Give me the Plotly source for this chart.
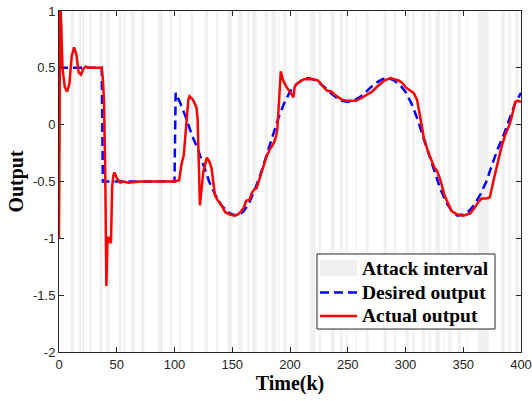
import plotly.graph_objects as go

# Attack intervals (start, end) in time steps k
attack_start = [10, 17, 20, 26, 35, 41, 52, 56, 62, 71, 86, 96, 104, 114, 126, 136,
                146, 155, 163, 167, 178, 184, 190, 194, 204, 217, 225, 235, 243, 248,
                257, 266, 281, 290, 300, 306, 314, 320, 326, 333, 337, 345, 353, 363,
                383, 389, 395]
attack_end = [13, 19, 22, 28, 38, 44, 54, 58, 66, 74, 90, 98, 106, 116, 129, 138,
              150, 159, 165, 171, 181, 188, 191, 197, 207, 222, 227, 239, 246, 250,
              258, 268, 284, 292, 303, 308, 317, 322, 330, 334, 340, 348, 354, 372,
              386, 391, 398]

# Desired output (reference trajectory)
desired_k = [0, 37, 38, 100, 101, 105, 110, 115, 120, 125, 130, 135, 140, 145, 150,
             155, 160, 165, 170, 175, 180, 185, 190, 195, 200, 205, 210, 215, 220,
             225, 230, 235, 240, 245, 250, 255, 260, 265, 270, 275, 280, 285, 290,
             295, 300, 305, 310, 315, 320, 325, 330, 335, 340, 345, 350, 355, 360,
             365, 370, 375, 380, 385, 390, 395, 400]
desired_y = [0.5, 0.5, -0.5, -0.5, 0.28, 0.19, 0.06, -0.09, -0.21, -0.35, -0.50,
             -0.61, -0.70, -0.76, -0.79, -0.80, -0.76, -0.68, -0.56, -0.42, -0.26,
             -0.10, 0.06, 0.19, 0.29, 0.35, 0.39, 0.41, 0.40, 0.37, 0.33, 0.28, 0.24,
             0.21, 0.20, 0.21, 0.24, 0.28, 0.33, 0.37, 0.40, 0.41, 0.39, 0.35, 0.29,
             0.19, 0.06, -0.10, -0.26, -0.42, -0.56, -0.68, -0.76, -0.80, -0.79,
             -0.76, -0.70, -0.61, -0.50, -0.35, -0.21, -0.09, 0.06, 0.19, 0.28]

# Actual system output
actual_k = [0, 1, 2, 3, 5, 7, 9, 11, 13, 15, 17, 19, 21, 23, 26, 30, 34, 37, 38, 39,
            40, 41, 42, 43, 44, 45, 46, 47, 48, 50, 53, 56, 60, 70, 80, 90, 100, 104,
            106, 108, 110, 112, 113, 116, 119, 120, 122, 125, 128, 130, 132, 135, 137,
            140, 144, 148, 152, 155, 157, 160, 162, 165, 167, 169, 171, 173, 176, 180,
            183, 186, 188, 189, 190, 191, 192, 194, 197, 200, 203, 204, 206, 209, 212,
            215, 220, 224, 226, 229, 232, 236, 238, 242, 245, 249, 253, 257, 261, 266,
            271, 276, 282, 287, 291, 294, 297, 300, 304, 307, 310, 313, 316, 319, 322,
            325, 327, 330, 334, 337, 340, 345, 350, 356, 360, 363, 366, 370, 373, 376,
            379, 383, 386, 390, 392, 395, 397, 400]
actual_y = [-1.0, 1.1, 0.85, 0.5, 0.33, 0.29, 0.36, 0.6, 0.68, 0.62, 0.46, 0.44, 0.49,
            0.51, 0.50, 0.50, 0.50, 0.50, 0.40, 0.20, -0.40, -1.42, -1.0, -0.99, -1.03,
            -1.04, -0.55, -0.45, -0.42, -0.47, -0.51, -0.50, -0.51, -0.50, -0.50, -0.50,
            -0.50, -0.49, -0.35, -0.27, 0.0, 0.22, 0.25, 0.22, 0.15, 0.05, -0.71, -0.41,
            -0.29, -0.32, -0.38, -0.62, -0.66, -0.70, -0.77, -0.79, -0.80, -0.79, -0.77,
            -0.73, -0.67, -0.66, -0.60, -0.57, -0.56, -0.50, -0.40, -0.27, -0.21, -0.16,
            -0.10, -0.04, 0.12, 0.30, 0.47, 0.39, 0.33, 0.29, 0.24, 0.33, 0.36, 0.38,
            0.40, 0.40, 0.40, 0.39, 0.37, 0.33, 0.30, 0.29, 0.27, 0.24, 0.22, 0.21, 0.21,
            0.21, 0.23, 0.26, 0.29, 0.34, 0.39, 0.41, 0.40, 0.39, 0.37, 0.33, 0.30, 0.28,
            0.22, 0.03, -0.12, -0.22, -0.30, -0.38, -0.40, -0.48, -0.63, -0.69, -0.76,
            -0.79, -0.80, -0.78, -0.73, -0.68, -0.65, -0.65, -0.64, -0.50, -0.36, -0.20,
            -0.10, 0.00, 0.07, 0.20, 0.21, 0.20]

x_ticks = [0, 50, 100, 150, 200, 250, 300, 350, 400]
y_ticks = [1, 0.5, 0, -0.5, -1, -1.5, -2]
y_ticktext = ["1", "0.5", "0", "-0.5", "-1", "-1.5", "-2"]

legend_labels = ["Attack interval", "Desired output", "Actual output"]

Y_MIN, Y_MAX = -2, 1

BAND_COLOR = "#f0f0f0"
DESIRED_COLOR = "#0000ff"
ACTUAL_COLOR = "#ff0000"
LINE_W = 2.5
DASH = "9px,5px"

# Build closed rectangles for every attack interval, separated by gaps
band_x, band_y = [], []
for s, e in zip(attack_start, attack_end):
    band_x += [s, e, e, s, s, None]
    band_y += [Y_MIN, Y_MIN, Y_MAX, Y_MAX, Y_MIN, None]

serif = "Liberation Serif"
sans = "Liberation Sans"
axis_col = "#262626"

fig = go.Figure()
fig.add_trace(go.Scatter(
    x=band_x, y=band_y, mode="lines", fill="toself",
    fillcolor=BAND_COLOR, line=dict(width=0, color=BAND_COLOR),
    name=legend_labels[0], hoverinfo="skip", showlegend=False,
))
fig.add_trace(go.Scatter(
    x=desired_k, y=desired_y, mode="lines",
    line=dict(color=DESIRED_COLOR, width=LINE_W, dash=DASH),
    name=legend_labels[1], showlegend=False,
))
fig.add_trace(go.Scatter(
    x=actual_k, y=actual_y, mode="lines",
    line=dict(color=ACTUAL_COLOR, width=LINE_W),
    name=legend_labels[2], showlegend=False,
))

axis_common = dict(
    showline=True, linecolor=axis_col, linewidth=1, mirror="ticks",
    ticks="inside", ticklen=5, tickcolor=axis_col, showgrid=False, zeroline=False,
    automargin=False,
    tickfont=dict(family=sans, size=13, color=axis_col),
)

# Boxed legend in the lower right corner (plot-area paper coordinates)
box = dict(x0=0.5584, x1=0.9437, y0=0.0674, y1=0.2874)
sym_x0, sym_x1 = 0.5649, 0.6450
row_y = [0.2463, 0.1745, 0.1056]
text_x = 0.6515

shapes = [
    dict(type="rect", xref="paper", yref="paper", layer="above",
         fillcolor="white", line=dict(color=axis_col, width=1), **box),
    dict(type="rect", xref="paper", yref="paper", layer="above",
         x0=sym_x0, x1=sym_x1, y0=row_y[0] - 0.0242, y1=row_y[0] + 0.0242,
         fillcolor=BAND_COLOR, line=dict(width=0)),
    dict(type="line", xref="paper", yref="paper", layer="above",
         x0=sym_x0, x1=sym_x1, y0=row_y[1], y1=row_y[1],
         line=dict(color=DESIRED_COLOR, width=LINE_W, dash=DASH)),
    dict(type="line", xref="paper", yref="paper", layer="above",
         x0=sym_x0, x1=sym_x1, y0=row_y[2], y1=row_y[2],
         line=dict(color=ACTUAL_COLOR, width=LINE_W)),
]
annotations = [
    dict(text=lab, xref="paper", yref="paper", x=text_x, y=yy,
         xanchor="left", yanchor="middle", showarrow=False,
         font=dict(family=serif, size=19.5, color="black", weight="bold"))
    for lab, yy in zip(legend_labels, row_y)
]

fig.update_layout(
    width=532, height=401,
    margin=dict(l=59, r=11, t=11, b=49),
    paper_bgcolor="white", plot_bgcolor="white",
    xaxis=dict(range=[0, 400], tickvals=x_ticks,
               title=dict(text="Time(k)", standoff=2,
                          font=dict(family=serif, size=20, color="black", weight="bold")),
               **axis_common),
    yaxis=dict(range=[Y_MIN, Y_MAX], tickvals=y_ticks, ticktext=y_ticktext,
               title=dict(text="Output", standoff=3,
                          font=dict(family=serif, size=20, color="black", weight="bold")),
               **axis_common),
    shapes=shapes,
    annotations=annotations,
    showlegend=False,
)

fig.write_html("out.html")
